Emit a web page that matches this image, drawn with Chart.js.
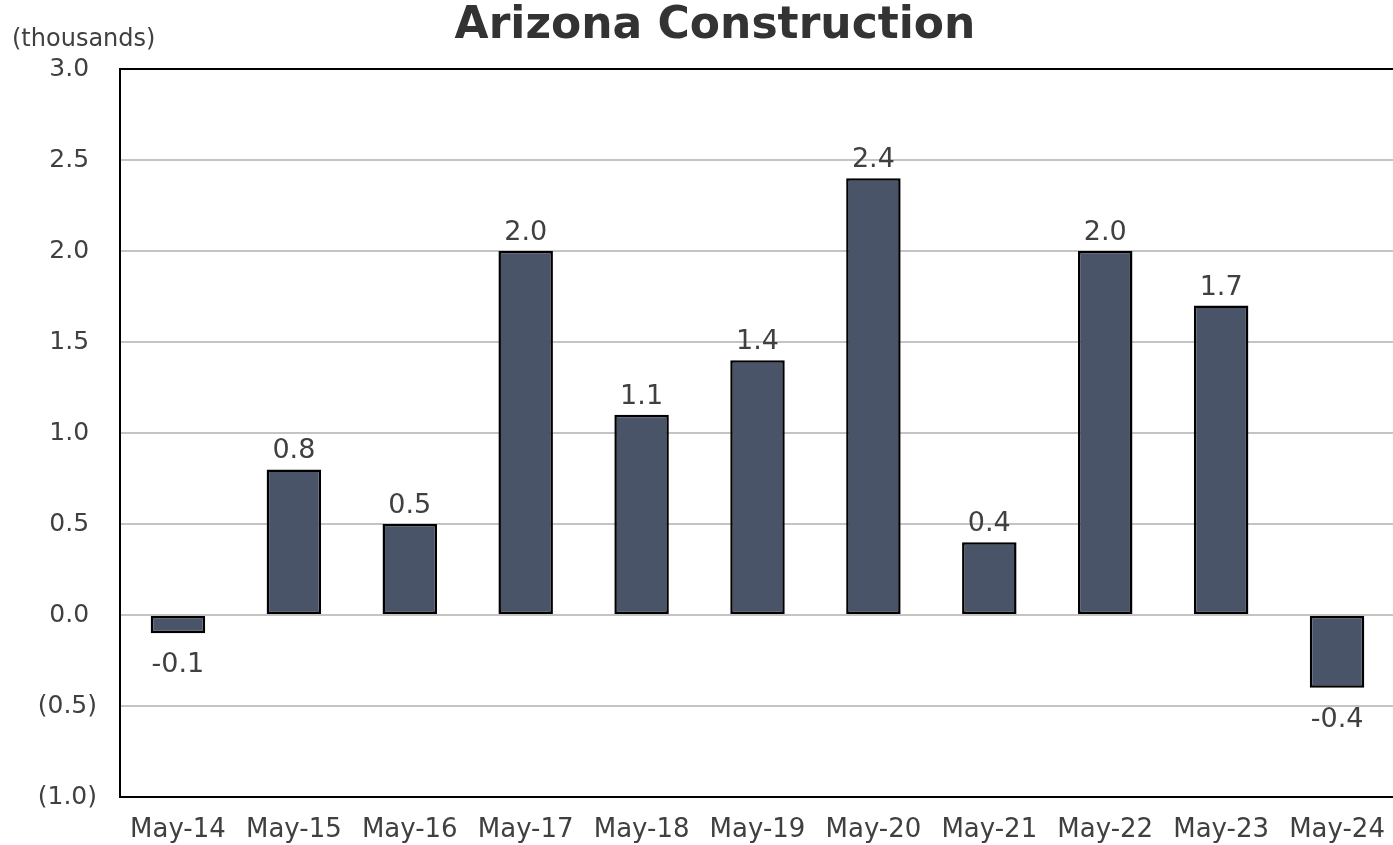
<!DOCTYPE html>
<html>
<head>
<meta charset="utf-8">
<script src="https://cdn.jsdelivr.net/npm/chart.js@4"></script>
<style>
  html, body { margin: 0; padding: 0; background: #fff; overflow: hidden; }
  #wrap { width: 1397px; height: 845px; }
</style>
</head>
<body>
<div id="wrap"><canvas id="azChart" width="1397" height="845"></canvas></div>
<script>
const labels = ['May-14','May-15','May-16','May-17','May-18','May-19','May-20','May-21','May-22','May-23','May-24'];
const jobs = [-0.1, 0.8, 0.5, 2.0, 1.1, 1.4, 2.4, 0.4, 2.0, 1.7, -0.4];
const yMin = -1.0;
const yMax = 3.0;
const yStep = 0.5;

const FONT = 'DejaVu Sans, Verdana, sans-serif';
const TEXT = '#404040';

// title, unit label and value labels
const extras = {
    id: 'extras',
    afterDatasetsDraw(chart) {
        const ctx = chart.ctx;
        ctx.save();
        ctx.fillStyle = '#333333';
        ctx.font = 'bold 44px ' + FONT;
        ctx.textAlign = 'center';
        ctx.textBaseline = 'middle';
        ctx.fillText('Arizona Construction', 715, 27);

        ctx.fillStyle = TEXT;
        ctx.font = '24px ' + FONT;
        ctx.textAlign = 'left';
        ctx.fillText('(thousands)', 12, 40);

        ctx.font = '27px ' + FONT;
        ctx.textAlign = 'center';
        ctx.textBaseline = 'alphabetic';
        const meta = chart.getDatasetMeta(0);
        meta.data.forEach((bar, i) => {
            const v = jobs[i];
            if (v >= 0) {
                ctx.fillText(v.toFixed(1), bar.x, bar.y - 11);
            } else {
                ctx.fillText(v.toFixed(1), bar.x, bar.y + 39);
            }
        });
        ctx.restore();
    }
};

const ctxAz = document.getElementById('azChart');
const azChart = new Chart(ctxAz, {
    type: 'bar',
    data: {
        labels: labels,
        datasets: [{
            data: jobs,
            backgroundColor: '#4a5468',
            borderColor: '#000000',
            borderWidth: 2.5,
            borderSkipped: false,
            barPercentage: 0.47,
            categoryPercentage: 1.0
        }]
    },
    options: {
        responsive: false,
        animation: false,
        layout: { padding: { top: 69, right: 2, left: 0, bottom: 0 } },
        plugins: {
            legend: { display: false },
            tooltip: { enabled: false }
        },
        scales: {
            x: {
                afterFit: (s) => { s.height = 48; },
                grid: { display: false },
                border: { display: true, color: '#000000', width: 2 },
                ticks: { color: TEXT, font: { family: FONT, size: 26 }, padding: 10, maxRotation: 0 }
            },
            y: {
                min: yMin,
                max: yMax,
                afterFit: (s) => { s.width = 120; },
                border: { display: true, color: '#000000', width: 2 },
                grid: {
                    color: (c) => (c.tick && c.tick.value === yMax) ? '#000000' : '#c4c4c4',
                    lineWidth: 2,
                    drawTicks: false
                },
                ticks: {
                    stepSize: yStep,
                    color: TEXT,
                    padding: 23,
                    font: { family: FONT, size: 25 },
                    callback: (v) => v < 0 ? '(' + Math.abs(v).toFixed(1) + ')' : v.toFixed(1) + ' '
                }
            }
        }
    },
    plugins: [extras]
});
</script>
</body>
</html>
